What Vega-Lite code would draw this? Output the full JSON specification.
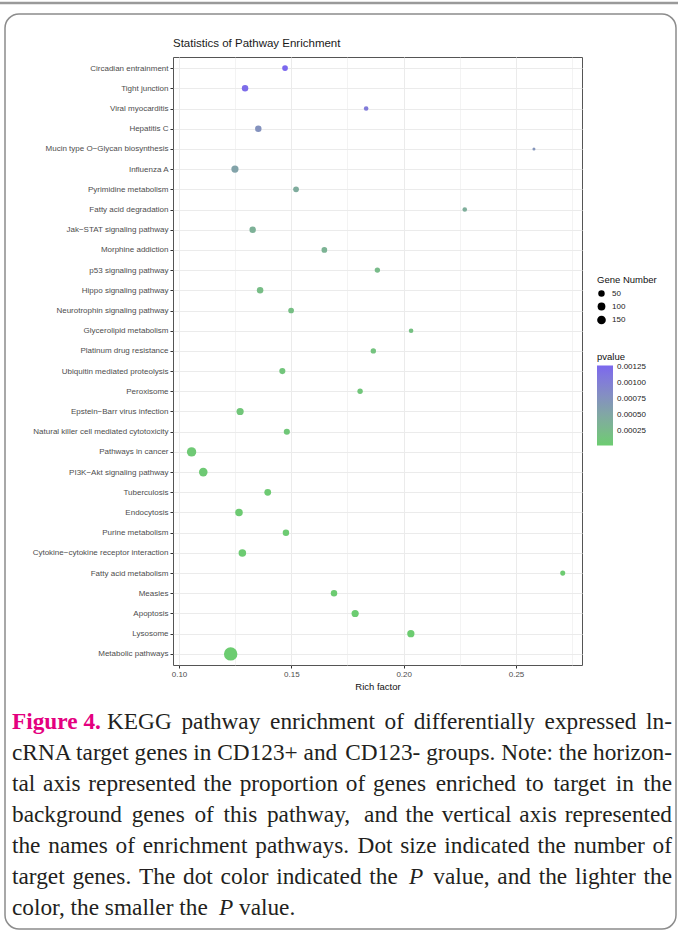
{
  "$schema": "https://vega.github.io/schema/vega-lite/v6.json",
  "width": 409,
  "height": 608,
  "autosize": {"type": "none"},
  "padding": {"left": 173, "top": 57, "right": 96, "bottom": 267},
  "background": "white",
  "title": {"text": "Statistics of Pathway Enrichment", "anchor": "start", "frame": "group", "fontSize": 11.5, "fontWeight": "normal", "font": "Liberation Sans", "color": "#1a1a1a", "offset": 7, "dy": 55},
  "datasets": {
    "pathways": [
      {"pathway": "Circadian entrainment", "rich_factor": 0.1472, "gene_number": 32, "pvalue": 0.00127},
      {"pathway": "Tight junction", "rich_factor": 0.1294, "gene_number": 50, "pvalue": 0.00122},
      {"pathway": "Viral myocarditis", "rich_factor": 0.1833, "gene_number": 15, "pvalue": 0.00105},
      {"pathway": "Hepatitis C", "rich_factor": 0.1353, "gene_number": 50, "pvalue": 0.00076},
      {"pathway": "Mucin type O−Glycan biosynthesis", "rich_factor": 0.258, "gene_number": 4, "pvalue": 0.00073},
      {"pathway": "Influenza A", "rich_factor": 0.1249, "gene_number": 75, "pvalue": 0.00055},
      {"pathway": "Pyrimidine metabolism", "rich_factor": 0.1521, "gene_number": 32, "pvalue": 0.00043},
      {"pathway": "Fatty acid degradation", "rich_factor": 0.2272, "gene_number": 15, "pvalue": 0.00041},
      {"pathway": "Jak−STAT signaling pathway", "rich_factor": 0.1328, "gene_number": 50, "pvalue": 0.00037},
      {"pathway": "Morphine addiction", "rich_factor": 0.1647, "gene_number": 32, "pvalue": 0.00034},
      {"pathway": "p53 signaling pathway", "rich_factor": 0.1883, "gene_number": 26, "pvalue": 0.00024},
      {"pathway": "Hippo signaling pathway", "rich_factor": 0.1361, "gene_number": 50, "pvalue": 0.00021},
      {"pathway": "Neurotrophin signaling pathway", "rich_factor": 0.1499, "gene_number": 32, "pvalue": 0.00019},
      {"pathway": "Glycerolipid metabolism", "rich_factor": 0.2033, "gene_number": 15, "pvalue": 0.00017},
      {"pathway": "Platinum drug resistance", "rich_factor": 0.1865, "gene_number": 26, "pvalue": 0.00014},
      {"pathway": "Ubiquitin mediated proteolysis", "rich_factor": 0.146, "gene_number": 41, "pvalue": 0.00011},
      {"pathway": "Peroxisome", "rich_factor": 0.1806, "gene_number": 26, "pvalue": 0.0001},
      {"pathway": "Epstein−Barr virus infection", "rich_factor": 0.1272, "gene_number": 75, "pvalue": 0.00009},
      {"pathway": "Natural killer cell mediated cytotoxicity", "rich_factor": 0.148, "gene_number": 41, "pvalue": 0.00008},
      {"pathway": "Pathways in cancer", "rich_factor": 0.1056, "gene_number": 200, "pvalue": 0.00006},
      {"pathway": "PI3K−Akt signaling pathway", "rich_factor": 0.1108, "gene_number": 146, "pvalue": 0.00005},
      {"pathway": "Tuberculosis", "rich_factor": 0.1395, "gene_number": 60, "pvalue": 0.00004},
      {"pathway": "Endocytosis", "rich_factor": 0.1267, "gene_number": 88, "pvalue": 0.000035},
      {"pathway": "Purine metabolism", "rich_factor": 0.1476, "gene_number": 50, "pvalue": 0.00003},
      {"pathway": "Cytokine−cytokine receptor interaction", "rich_factor": 0.1282, "gene_number": 88, "pvalue": 0.000028},
      {"pathway": "Fatty acid metabolism", "rich_factor": 0.2708, "gene_number": 21, "pvalue": 0.000025},
      {"pathway": "Measles", "rich_factor": 0.169, "gene_number": 50, "pvalue": 0.000022},
      {"pathway": "Apoptosis", "rich_factor": 0.1784, "gene_number": 75, "pvalue": 0.00002},
      {"pathway": "Lysosome", "rich_factor": 0.2032, "gene_number": 75, "pvalue": 0.000018},
      {"pathway": "Metabolic pathways", "rich_factor": 0.123, "gene_number": 820, "pvalue": 0.000015}
    ],
    "caption": [
      {"line": 1, "seg": "fig", "text": "Figure 4."},
      {"line": 1, "seg": "R", "text": "KEGG \u2006pathway \u2006enrichment \u2006of \u2006differentially \u2006expressed \u2006ln-"},
      {"line": 2, "seg": "L", "text": "cRNA target genes in CD123+ and"},
      {"line": 2, "seg": "R", "text": "CD123- groups. Note: the horizon-"},
      {"line": 3, "seg": "L", "text": "tal\u2004axis\u2004represented\u2004the\u2004proportion\u2004of"},
      {"line": 3, "seg": "R", "text": "genes \u2006enriched \u2006to \u2006target \u2006in \u2006the"},
      {"line": 4, "seg": "L", "text": "background \u2006genes \u2006of \u2006this \u2006pathway,"},
      {"line": 4, "seg": "R", "text": "and\u2004the\u2004vertical\u2004axis\u2004represented"},
      {"line": 5, "seg": "L", "text": "the\u2004names\u2004of\u2004enrichment\u2004pathways."},
      {"line": 5, "seg": "R", "text": "Dot\u2004size\u2004indicated\u2004the\u2004number\u2004of"},
      {"line": 6, "seg": "L", "text": "target\u2004genes.\u2004The\u2004dot\u2004color\u2004indicated\u2004the"},
      {"line": 6, "seg": "P6", "text": "P"},
      {"line": 6, "seg": "R", "text": "value,\u2004and\u2004the\u2004lighter\u2004the"},
      {"line": 7, "seg": "L", "text": "color, the smaller the"},
      {"line": 7, "seg": "P7", "text": "P"},
      {"line": 7, "seg": "V7", "text": "value."}
    ],
    "one": [{"k": 1}]
  },
  "resolve": {"scale": {"y": "independent"}},
  "layer": [
    {
      "data": {"name": "one"},
      "mark": {"type": "rule", "stroke": "#9a9a9a", "strokeWidth": 2.5},
      "encoding": {"x": {"value": -173}, "x2": {"value": 505}, "y": {"value": -54}}
    },
    {
      "data": {"name": "one"},
      "mark": {"type": "rect", "cornerRadius": 14, "fillOpacity": 0, "stroke": "#8c8c8c", "strokeWidth": 1.5},
      "encoding": {"x": {"value": -168}, "x2": {"value": 503}, "y": {"value": -43}, "y2": {"value": 872}}
    },
    {
      "data": {"name": "pathways"},
      "mark": {"type": "circle", "opacity": 1, "strokeWidth": 0},
      "encoding": {
        "x": {
          "field": "rich_factor", "type": "quantitative", "title": "Rich factor",
          "scale": {"domain": [0.09733, 0.27938], "nice": false, "zero": false},
          "axis": {
            "values": [0.1, 0.125, 0.15, 0.175, 0.2, 0.225, 0.25, 0.275],
            "format": ".2f",
            "labelExpr": "abs(datum.value*20 - round(datum.value*20)) < 0.001 ? datum.label : ''",
            "tickOpacity": {"condition": {"test": "abs(datum.value*20 - round(datum.value*20)) < 0.001", "value": 1}, "value": 0},
            "gridWidth": {"condition": {"test": "abs(datum.value*20 - round(datum.value*20)) < 0.001", "value": 1}, "value": 0.6},
            "grid": true, "gridColor": "#ebebeb", "domain": false,
            "tickColor": "#333333", "tickSize": 3, "labelPadding": 2,
            "labelFontSize": 8, "labelColor": "#4d4d4d", "labelFont": "Liberation Sans",
            "titleFontSize": 9.5, "titleFontWeight": "normal", "titleColor": "#111111", "titleFont": "Liberation Sans", "titlePadding": 3
          }
        },
        "y": {
          "field": "pathway", "type": "nominal", "sort": null,
          "scale": {"type": "point", "padding": 0.55},
          "axis": {
            "title": null, "grid": true, "gridColor": "#ebebeb", "gridWidth": 1, "domain": false,
            "tickColor": "#333333", "tickSize": 3, "labelPadding": 2,
            "labelFontSize": 8, "labelColor": "#4d4d4d", "labelFont": "Liberation Sans", "labelLimit": 300
          }
        },
        "size": {
          "field": "gene_number", "type": "quantitative", "title": "Gene Number",
          "scale": {"type": "sqrt", "domain": [4, 900], "range": [9, 190], "zero": false},
          "legend": {
            "orient": "none", "legendX": 424, "legendY": 218, "values": [50, 100, 150],
            "symbolType": "circle", "symbolFillColor": "black", "symbolStrokeColor": "black", "symbolStrokeWidth": 0, "symbolOpacity": 1,
            "titleFontSize": 9.5, "titleFontWeight": "normal", "titleColor": "#111111", "titleFont": "Liberation Sans", "titlePadding": 5,
            "labelFontSize": 8, "labelColor": "#222222", "labelFont": "Liberation Sans", "rowPadding": 5, "labelOffset": 6
          }
        },
        "color": {
          "field": "pvalue", "type": "quantitative", "title": "pvalue",
          "scale": {"domain": [0.000015, 0.00127], "range": ["#6ccc70", "#7b68ee"], "interpolate": "lab"},
          "legend": {
            "orient": "none", "legendX": 424, "legendY": 295, "direction": "vertical",
            "gradientLength": 80, "gradientThickness": 16, "gradientStrokeWidth": 0,
            "values": [0.00025, 0.0005, 0.00075, 0.001, 0.00125], "format": ".5f", "labelOverlap": false,
            "titleFontSize": 9.5, "titleFontWeight": "normal", "titleColor": "#111111", "titleFont": "Liberation Sans", "titlePadding": 4,
            "labelFontSize": 8, "labelColor": "#222222", "labelFont": "Liberation Sans", "labelOffset": 4
          }
        }
      }
    },
    {
      "data": {"name": "caption"},
      "encoding": {
        "y": {"field": "line", "type": "quantitative", "scale": {"domain": [1, 7], "range": [665, 851], "nice": false, "zero": false}, "axis": null},
        "text": {"field": "text"}
      },
      "layer": [
        {
          "transform": [{"filter": "datum.seg === 'L'"}],
          "mark": {"type": "text", "align": "left", "baseline": "middle", "font": "Liberation Serif", "fontSize": 23.3, "color": "#231f20"},
          "encoding": {"x": {"value": -161}}
        },
        {
          "transform": [{"filter": "datum.seg === 'R'"}],
          "mark": {"type": "text", "align": "right", "baseline": "middle", "font": "Liberation Serif", "fontSize": 23.3, "color": "#231f20"},
          "encoding": {"x": {"value": 499}}
        },
        {
          "transform": [{"filter": "datum.seg === 'fig'"}],
          "mark": {"type": "text", "align": "left", "baseline": "middle", "font": "Liberation Serif", "fontSize": 23.3, "fontWeight": "bold", "color": "#e4007f"},
          "encoding": {"x": {"value": -161}}
        },
        {
          "transform": [{"filter": "datum.seg === 'P6'"}],
          "mark": {"type": "text", "align": "left", "baseline": "middle", "font": "Liberation Serif", "fontSize": 23.3, "fontStyle": "italic", "color": "#231f20"},
          "encoding": {"x": {"value": 236}}
        },
        {
          "transform": [{"filter": "datum.seg === 'P7'"}],
          "mark": {"type": "text", "align": "left", "baseline": "middle", "font": "Liberation Serif", "fontSize": 23.3, "fontStyle": "italic", "color": "#231f20"},
          "encoding": {"x": {"value": 46}}
        },
        {
          "transform": [{"filter": "datum.seg === 'V7'"}],
          "mark": {"type": "text", "align": "left", "baseline": "middle", "font": "Liberation Serif", "fontSize": 23.3, "color": "#231f20"},
          "encoding": {"x": {"value": 66}}
        }
      ]
    }
  ],
  "config": {
    "view": {"stroke": "#555555", "strokeWidth": 1},
    "font": "Liberation Sans"
  }
}
